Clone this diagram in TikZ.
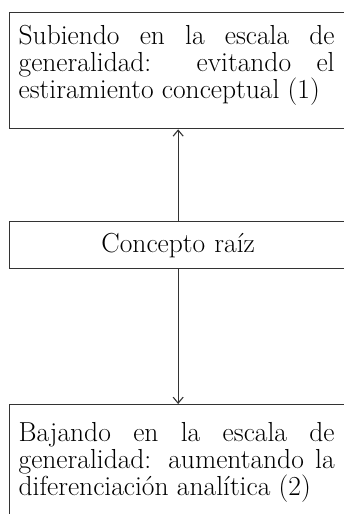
\documentclass[tikz,border=0pt]{standalone}
\usepackage{tikz}
\usetikzlibrary{arrows.meta}

\begin{document}
\begin{tikzpicture}[x=1pt, y=-1pt,
  box/.style={draw=black!80, line width=1.3pt, anchor=north west, text width=327pt, inner xsep=5pt, inner ysep=0pt,
    font=\fontsize{27.5}{27}\selectfont},
  textbox/.style={box, align=justify, minimum height=116pt, execute at begin node=\leftskip4pt\rightskip7pt\relax},
  rootbox/.style={box, align=center, minimum height=47pt},
  arrow/.style={-{Straight Barb[length=6pt, width=10pt]}, line width=1.1pt, draw=black!80}
]
\useasboundingbox (0,0) rectangle (343,514);
\node[textbox, text depth=71pt] (sube) at (9,12) {Subiendo en la escala de\linebreak generalidad: evitando el\linebreak estiramiento conceptual (1)};
\node[rootbox] (raiz) at (9,221) {Concepto raíz};
\node[textbox] (baja) at (9,404) {Bajando en la escala de\linebreak generalidad: aumentando la\linebreak diferenciación analítica (2)};
\draw[arrow] (raiz) -- (sube);
\draw[arrow] (raiz) -- (baja);
\end{tikzpicture}
\end{document}
